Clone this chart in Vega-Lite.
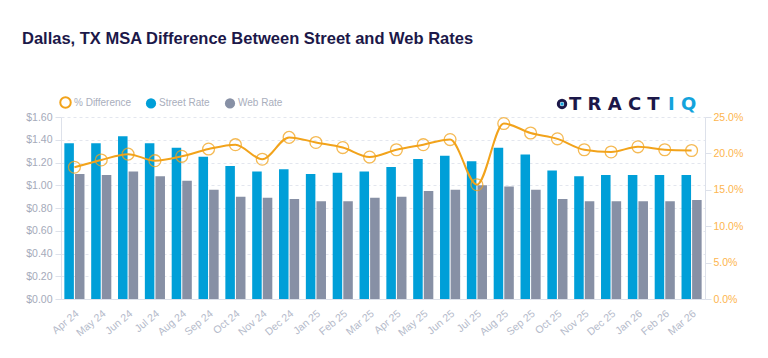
{
  "$schema": "https://vega.github.io/schema/vega-lite/v6.json",
  "width": 644,
  "height": 182,
  "autosize": {"type": "none"},
  "padding": {"left": 61, "top": 117, "right": 63, "bottom": 59},
  "background": "#ffffff",
  "title": {
    "text": "Dallas, TX MSA Difference Between Street and Web Rates",
    "anchor": "start",
    "frame": "group",
    "dx": -39,
    "offset": 47,
    "font": "Liberation Sans",
    "fontSize": 16.5,
    "fontWeight": "bold",
    "color": "#1C1849"
  },
  "config": {"view": {"stroke": null}, "font": "Liberation Sans"},
  "data": {
    "values": [
      {"month": "Apr 24", "series": "Street Rate", "value": 1.37},
      {"month": "Apr 24", "series": "Web Rate", "value": 1.10},
      {"month": "Apr 24", "series": "% Difference", "value": 0.181},
      {"month": "May 24", "series": "Street Rate", "value": 1.37},
      {"month": "May 24", "series": "Web Rate", "value": 1.09},
      {"month": "May 24", "series": "% Difference", "value": 0.191},
      {"month": "Jun 24", "series": "Street Rate", "value": 1.43},
      {"month": "Jun 24", "series": "Web Rate", "value": 1.12},
      {"month": "Jun 24", "series": "% Difference", "value": 0.199},
      {"month": "Jul 24", "series": "Street Rate", "value": 1.37},
      {"month": "Jul 24", "series": "Web Rate", "value": 1.08},
      {"month": "Jul 24", "series": "% Difference", "value": 0.190},
      {"month": "Aug 24", "series": "Street Rate", "value": 1.33},
      {"month": "Aug 24", "series": "Web Rate", "value": 1.04},
      {"month": "Aug 24", "series": "% Difference", "value": 0.196},
      {"month": "Sep 24", "series": "Street Rate", "value": 1.25},
      {"month": "Sep 24", "series": "Web Rate", "value": 0.96},
      {"month": "Sep 24", "series": "% Difference", "value": 0.206},
      {"month": "Oct 24", "series": "Street Rate", "value": 1.17},
      {"month": "Oct 24", "series": "Web Rate", "value": 0.90},
      {"month": "Oct 24", "series": "% Difference", "value": 0.212},
      {"month": "Nov 24", "series": "Street Rate", "value": 1.12},
      {"month": "Nov 24", "series": "Web Rate", "value": 0.89},
      {"month": "Nov 24", "series": "% Difference", "value": 0.192},
      {"month": "Dec 24", "series": "Street Rate", "value": 1.14},
      {"month": "Dec 24", "series": "Web Rate", "value": 0.88},
      {"month": "Dec 24", "series": "% Difference", "value": 0.222},
      {"month": "Jan 25", "series": "Street Rate", "value": 1.10},
      {"month": "Jan 25", "series": "Web Rate", "value": 0.86},
      {"month": "Jan 25", "series": "% Difference", "value": 0.215},
      {"month": "Feb 25", "series": "Street Rate", "value": 1.11},
      {"month": "Feb 25", "series": "Web Rate", "value": 0.86},
      {"month": "Feb 25", "series": "% Difference", "value": 0.208},
      {"month": "Mar 25", "series": "Street Rate", "value": 1.12},
      {"month": "Mar 25", "series": "Web Rate", "value": 0.89},
      {"month": "Mar 25", "series": "% Difference", "value": 0.195},
      {"month": "Apr 25", "series": "Street Rate", "value": 1.16},
      {"month": "Apr 25", "series": "Web Rate", "value": 0.90},
      {"month": "Apr 25", "series": "% Difference", "value": 0.205},
      {"month": "May 25", "series": "Street Rate", "value": 1.23},
      {"month": "May 25", "series": "Web Rate", "value": 0.95},
      {"month": "May 25", "series": "% Difference", "value": 0.212},
      {"month": "Jun 25", "series": "Street Rate", "value": 1.26},
      {"month": "Jun 25", "series": "Web Rate", "value": 0.96},
      {"month": "Jun 25", "series": "% Difference", "value": 0.219},
      {"month": "Jul 25", "series": "Street Rate", "value": 1.21},
      {"month": "Jul 25", "series": "Web Rate", "value": 1.00},
      {"month": "Jul 25", "series": "% Difference", "value": 0.157},
      {"month": "Aug 25", "series": "Street Rate", "value": 1.33},
      {"month": "Aug 25", "series": "Web Rate", "value": 0.99},
      {"month": "Aug 25", "series": "% Difference", "value": 0.241},
      {"month": "Sep 25", "series": "Street Rate", "value": 1.27},
      {"month": "Sep 25", "series": "Web Rate", "value": 0.96},
      {"month": "Sep 25", "series": "% Difference", "value": 0.228},
      {"month": "Oct 25", "series": "Street Rate", "value": 1.13},
      {"month": "Oct 25", "series": "Web Rate", "value": 0.88},
      {"month": "Oct 25", "series": "% Difference", "value": 0.220},
      {"month": "Nov 25", "series": "Street Rate", "value": 1.08},
      {"month": "Nov 25", "series": "Web Rate", "value": 0.86},
      {"month": "Nov 25", "series": "% Difference", "value": 0.205},
      {"month": "Dec 25", "series": "Street Rate", "value": 1.09},
      {"month": "Dec 25", "series": "Web Rate", "value": 0.86},
      {"month": "Dec 25", "series": "% Difference", "value": 0.202},
      {"month": "Jan 26", "series": "Street Rate", "value": 1.09},
      {"month": "Jan 26", "series": "Web Rate", "value": 0.86},
      {"month": "Jan 26", "series": "% Difference", "value": 0.209},
      {"month": "Feb 26", "series": "Street Rate", "value": 1.09},
      {"month": "Feb 26", "series": "Web Rate", "value": 0.86},
      {"month": "Feb 26", "series": "% Difference", "value": 0.205},
      {"month": "Mar 26", "series": "Street Rate", "value": 1.09},
      {"month": "Mar 26", "series": "Web Rate", "value": 0.87},
      {"month": "Mar 26", "series": "% Difference", "value": 0.204}
    ]
  },
  "layer": [
    {
      "transform": [{"filter": "datum.series !== '% Difference'"}],
      "mark": {"type": "bar"},
      "encoding": {
        "x": {
          "field": "month",
          "type": "nominal",
          "scale": {
            "domain": ["Apr 24", "May 24", "Jun 24", "Jul 24", "Aug 24", "Sep 24", "Oct 24", "Nov 24", "Dec 24", "Jan 25", "Feb 25", "Mar 25", "Apr 25", "May 25", "Jun 25", "Jul 25", "Aug 25", "Sep 25", "Oct 25", "Nov 25", "Dec 25", "Jan 26", "Feb 26", "Mar 26"],
            "paddingInner": 0.25,
            "paddingOuter": 0.125
          },
          "axis": {
            "title": null,
            "labelAngle": -40,
            "ticks": false,
            "grid": false,
            "domainColor": "#DDE1EA",
            "labelColor": "#B4BACA",
            "labelFont": "Liberation Sans",
            "labelFontSize": 10.5,
            "labelPadding": 9
          }
        },
        "xOffset": {"field": "series", "scale": {"paddingInner": 0.1}},
        "y": {
          "field": "value",
          "type": "quantitative",
          "scale": {"domain": [0, 1.6], "nice": false},
          "axis": {
            "orient": "left",
            "title": null,
            "format": "$.2f",
            "values": [0, 0.2, 0.4, 0.6, 0.8, 1.0, 1.2, 1.4, 1.6],
            "labelOverlap": false,
            "grid": true,
            "gridDash": [3, 3],
            "gridColor": "#E3E6EE",
            "domainColor": "#DDE1EA",
            "tickColor": "#DDE1EA",
            "tickSize": 6,
            "labelColor": "#A5AABA",
            "labelFont": "Liberation Sans",
            "labelFontSize": 10.5,
            "labelPadding": 3
          }
        },
        "fill": {
          "field": "series",
          "type": "nominal",
          "scale": {
            "domain": ["Street Rate", "Web Rate"],
            "range": ["#009FD8", "#8790A5"]
          },
          "legend": {
            "orient": "none",
            "legendX": 84,
            "legendY": -20,
            "direction": "horizontal",
            "title": null,
            "symbolType": "circle",
            "symbolSize": 105,
            "symbolOpacity": 1,
            "labelFont": "Liberation Sans",
            "labelFontSize": 10,
            "labelColor": "#A9AEBC",
            "labelOffset": 2,
            "columnPadding": 14
          }
        }
      }
    },
    {
      "data": {"values": [{"brand": "TRACTIQ"}]},
      "encoding": {
        "x": {"datum": "Oct 25"},
        "y": {"datum": 1.715, "scale": {"domain": [0, 1.6], "nice": false}, "axis": null}
      },
      "layer": [
        {
          "mark": {"type": "point", "shape": "circle", "filled": false, "color": "#1C1849", "strokeWidth": 3, "size": 55, "opacity": 1, "xOffset": 4.6}
        },
        {
          "mark": {"type": "point", "shape": "circle", "filled": true, "color": "#13A3DC", "size": 12, "opacity": 1, "xOffset": 4.6}
        },
        {
          "mark": {"type": "text", "text": "T R A C T", "align": "left", "baseline": "alphabetic", "dx": 11.6, "dy": 6.3, "font": "DejaVu Sans", "fontWeight": "bold", "fontSize": 18, "color": "#1C1849"}
        },
        {
          "mark": {"type": "text", "text": "I Q", "align": "left", "baseline": "alphabetic", "dx": 110.6, "dy": 6.3, "font": "DejaVu Sans", "fontWeight": "bold", "fontSize": 18, "color": "#13A3DC"}
        }
      ]
    },
    {
      "transform": [{"filter": "datum.series === '% Difference'"}],
      "encoding": {
        "x": {"field": "month", "type": "nominal"},
        "y": {
          "field": "value",
          "type": "quantitative",
          "scale": {"domain": [0, 0.25], "nice": false},
          "axis": {
            "orient": "right",
            "title": null,
            "format": ".1%",
            "values": [0, 0.05, 0.1, 0.15, 0.2, 0.25],
            "labelOverlap": false,
            "grid": false,
            "domainColor": "#DDE1EA",
            "tickColor": "#DDE1EA",
            "tickSize": 6,
            "labelColor": "#FDB54E",
            "labelFont": "Liberation Sans",
            "labelFontSize": 10.5,
            "labelPadding": 2
          }
        },
        "stroke": {
          "field": "series",
          "type": "nominal",
          "scale": {"domain": ["% Difference"], "range": ["#F2A31B"]},
          "legend": {
            "orient": "none",
            "legendX": -2,
            "legendY": -21,
            "direction": "horizontal",
            "title": null,
            "symbolType": "circle",
            "symbolSize": 110,
            "symbolStrokeWidth": 2,
            "symbolOpacity": 1,
            "symbolFillColor": "transparent",
            "labelFont": "Liberation Sans",
            "labelFontSize": 10,
            "labelColor": "#A9AEBC",
            "labelOffset": 2
          }
        }
      },
      "layer": [
        {"mark": {"type": "line", "interpolate": "monotone", "strokeWidth": 2}},
        {"mark": {"type": "point", "shape": "circle", "filled": false, "size": 140, "strokeWidth": 1.3, "opacity": 0.75}}
      ]
    }
  ],
  "resolve": {"scale": {"y": "independent"}}
}
